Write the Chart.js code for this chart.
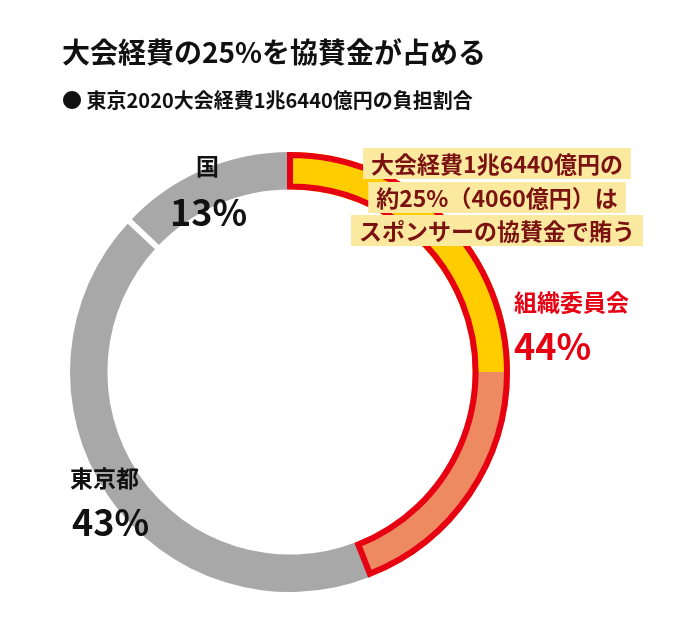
<!DOCTYPE html>
<html lang="ja">
<head>
<meta charset="UTF-8">
<script src="https://cdn.jsdelivr.net/npm/chart.js"></script>
<style>
  body { margin: 0; background: #fff; }
  #wrap { position: relative; width: 700px; height: 644px; }
</style>
</head>
<body>
<div id="wrap"><canvas id="c" width="700" height="644"></canvas></div>
<script>
// データ
var segments = ['協賛金', '組織委員会（その他）', '東京都', '国'];
var shares = [25, 19, 43, 13];
var segColors = ['#FFCC00', '#EE8A62', '#A8A8A8', '#A8A8A8'];
var noteLines = ['大会経費1兆6440億円の', '約25%（4060億円）は', 'スポンサーの協賛金で賄う'];

var FONT = '"Noto Sans CJK JP", "Noto Sans", sans-serif';

// 組織委員会部分の赤枠、区切り線、テキスト
var overlay = {
  id: 'overlay',
  afterDatasetsDraw: function (chart) {
    var ctx = chart.ctx;
    var arcs = chart.getDatasetMeta(0).data;
    var a = arcs[0], b = arcs[1], tokyo = arcs[2];
    ctx.save();

    // 東京都と国の間の白い区切り
    var ang = tokyo.endAngle;
    ctx.beginPath();
    ctx.moveTo(a.x + Math.cos(ang) * (a.innerRadius - 2), a.y + Math.sin(ang) * (a.innerRadius - 2));
    ctx.lineTo(a.x + Math.cos(ang) * (a.outerRadius + 2), a.y + Math.sin(ang) * (a.outerRadius + 2));
    ctx.lineWidth = 6;
    ctx.strokeStyle = '#fff';
    ctx.stroke();

    ctx.beginPath();
    ctx.arc(a.x, a.y, a.outerRadius - 3, a.startAngle, b.endAngle);
    ctx.arc(a.x, a.y, a.innerRadius + 3, b.endAngle, a.startAngle, true);
    ctx.closePath();
    ctx.lineWidth = 6;
    ctx.strokeStyle = '#E60012';
    ctx.stroke();

    // タイトル
    ctx.textBaseline = 'middle';
    ctx.textAlign = 'left';
    ctx.fillStyle = '#111';
    ctx.font = 'bold 28px ' + FONT;
    ctx.fillText('大会経費の25%を協賛金が占める', 62, 52);
    ctx.font = 'bold 20px ' + FONT;
    ctx.fillText('● 東京2020大会経費1兆6440億円の負担割合', 62, 100);

    // 注記
    ctx.textAlign = 'center';
    ctx.font = 'bold 23px ' + FONT;
    var cx = 497, ys = [164, 198, 231];
    noteLines.forEach(function (t, i) {
      var w = ctx.measureText(t).width + 16;
      ctx.fillStyle = '#FCE9A0';
      ctx.fillRect(cx - w / 2, ys[i] - 16, w, 31);
      ctx.fillStyle = '#7A1212';
      ctx.fillText(t, cx, ys[i]);
    });

    // ラベル
    ctx.textAlign = 'left';
    ctx.fillStyle = '#E60012';
    ctx.font = 'bold 23px ' + FONT;
    ctx.fillText('組織委員会', 514, 302);
    ctx.font = 'bold 36px ' + FONT;
    ctx.fillText(shares[0] + shares[1] + '%', 514, 346);

    ctx.fillStyle = '#111';
    ctx.font = 'bold 23px ' + FONT;
    ctx.fillText('国', 196, 166);
    ctx.fillText('東京都', 70, 478);
    ctx.font = 'bold 36px ' + FONT;
    ctx.fillText(shares[3] + '%', 170, 212);
    ctx.fillText(shares[2] + '%', 72, 522);
    ctx.restore();
  }
};

new Chart(document.getElementById('c'), {
  type: 'doughnut',
  data: {
    labels: segments,
    datasets: [{
      data: shares,
      backgroundColor: segColors,
      borderWidth: 0
    }]
  },
  options: {
    responsive: false,
    animation: false,
    cutout: '83%',
    layout: { padding: { left: 70, right: 190, top: 152, bottom: 52 } },
    plugins: {
      legend: { display: false },
      tooltip: { enabled: false }
    }
  },
  plugins: [overlay]
});
</script>
</body>
</html>
